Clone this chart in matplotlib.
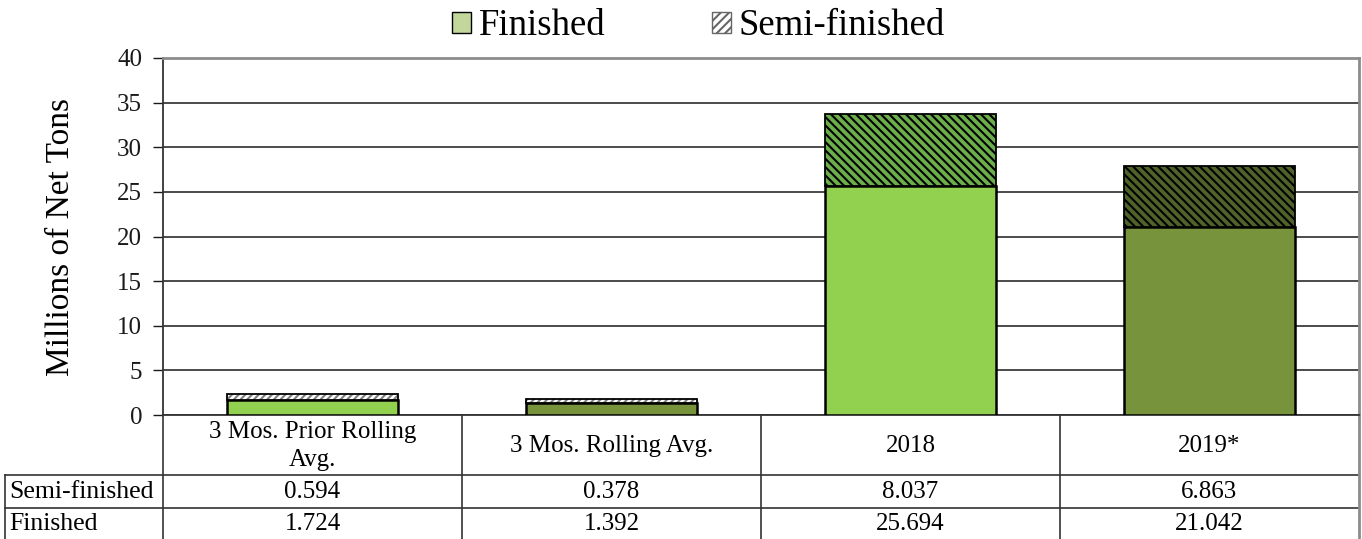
import matplotlib
matplotlib.use('Agg')
import matplotlib.pyplot as plt
from matplotlib.patches import Patch
import numpy as np

# ---- data ----
categories = ['3 Mos. Prior Rolling\nAvg.', '3 Mos. Rolling Avg.', '2018', '2019*']
semi_finished = [0.594, 0.378, 8.037, 6.863]
finished = [1.724, 1.392, 25.694, 21.042]
yticks = [0, 5, 10, 15, 20, 25, 30, 35, 40]
row_labels = ['Semi-finished', 'Finished']

plt.rcParams['font.family'] = ['Liberation Serif', 'DejaVu Serif']
plt.rcParams['hatch.linewidth'] = 1.5

W, H = 1362, 539
fig = plt.figure(figsize=(W / 100, H / 100), dpi=100)

L, R, T, B = 163, 1359, 58, 415
ax = fig.add_axes([L / W, (H - B) / H, (R - L) / W, (B - T) / H])
x = np.arange(len(categories))
fin_colors = ['#92d050', '#77933c', '#92d050', '#77933c']
semi_faces = ['white', 'white', '#6cae4c', '#4f6228']
semi_hatch_colors = ['#7f7f7f', '#7f7f7f', 'black', 'black']
semi_hatches = ['/////', '/////', '\\' * 4, '\\' * 4]
bw = 0.57

ax.bar(x, finished, bw, color=fin_colors, edgecolor='black', linewidth=1.8, zorder=3)
for i in range(len(x)):
    ax.bar(x[i], semi_finished[i], bw, bottom=finished[i], color=semi_faces[i],
           edgecolor=semi_hatch_colors[i], hatch=semi_hatches[i], linewidth=0, zorder=3)
    ax.bar(x[i], semi_finished[i], bw, bottom=finished[i], fill=False,
           edgecolor='black', linewidth=1.3, zorder=4)

ax.set_xlim(-0.5, len(x) - 0.5)
ax.set_ylim(0, 40)
ax.set_yticks(yticks)
ax.set_xticks([])
ax.set_axisbelow(True)
ax.yaxis.grid(True, color='#1a1a1a', linewidth=1.1)
for s in ['top', 'right']:
    ax.spines[s].set_color('#8c8c8c')
    ax.spines[s].set_linewidth(2)
ax.spines['left'].set_color('#333333')
ax.spines['left'].set_linewidth(1.3)
ax.spines['bottom'].set_color('#333333')
ax.spines['bottom'].set_linewidth(1.3)
ax.tick_params(axis='y', direction='out', length=7, width=1, labelsize=18, pad=8,
               colors='#1a1a1a')
ax.set_ylabel('Millions of Net Tons', fontsize=24)
ax.yaxis.set_label_coords((76 - L) / (R - L), 0.5)

# ---- data table below axes ----
ov = fig.add_axes([0, 0, 1, 1], zorder=-1)
ov.set_xlim(0, W)
ov.set_ylim(H, 0)
ov.axis('off')
lc = '#333333'
r1, r2, r3 = 475, 508, 539
ov.plot([5, R], [r1, r1], color=lc, lw=1.2)
ov.plot([5, R], [r2, r2], color=lc, lw=1.2)
ov.plot([5, 5], [r1, r3], color=lc, lw=1.2)
colw = (R - L) / len(categories)
for k in range(len(categories)):
    xb = L + k * colw
    ov.plot([xb, xb], [B, r3], color=lc, lw=1.2)
ov.plot([R, R], [B, r3], color='#8c8c8c', lw=2)

fs = 18
for k, c in enumerate(categories):
    cx = L + (k + 0.5) * colw
    ov.text(cx, (B + r1) / 2 + 1, c, ha='center', va='center', fontsize=fs, linespacing=1.4)
    ov.text(cx, (r1 + r2) / 2 + 1, f'{semi_finished[k]:.3f}', ha='center', va='center', fontsize=fs)
    ov.text(cx, (r2 + r3) / 2 + 1, f'{finished[k]:.3f}', ha='center', va='center', fontsize=fs)
ov.text(9, (r1 + r2) / 2 + 1, row_labels[0], ha='left', va='center', fontsize=fs + 0.5)
ov.text(9, (r2 + r3) / 2 + 1, row_labels[1], ha='left', va='center', fontsize=fs + 0.5)

# ---- legend ----
handles = [Patch(facecolor='#c4d79b', edgecolor='black', label='Finished'),
           Patch(facecolor='white', edgecolor='#666666', hatch='////', label='Semi-finished')]
fig.legend(handles=handles, loc='upper center', bbox_to_anchor=(0.513, 1.045), ncol=2,
           frameon=False, fontsize=26.5, handlelength=0.5, handleheight=0.5,
           handletextpad=0.22, columnspacing=2.9)

fig.savefig('out.png', dpi=100)
